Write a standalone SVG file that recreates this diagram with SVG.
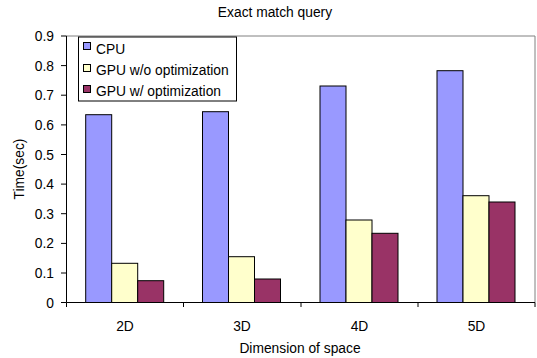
<svg xmlns="http://www.w3.org/2000/svg" width="537" height="358" viewBox="0 0 537 358">
<style>
text{font-family:"Liberation Sans",Arial,sans-serif;font-size:13.8px;fill:#000}
.yl{text-anchor:end}
.c{text-anchor:middle}
.cpu{fill:#9999FF;stroke:#000;stroke-width:1}
.w0{fill:#FFFFCC;stroke:#000;stroke-width:1}
.w1{fill:#993366;stroke:#000;stroke-width:1}
.ax{stroke:#000;stroke-width:1;fill:none}
</style>
<rect width="537" height="358" fill="#fff"/>
<text x="275" y="17" class="c">Exact match query</text>
<g id="plot-frame">
<path d="M66.5 36H535V302.5" fill="none" stroke="#808080" stroke-width="1"/>
<path class="ax" d="M66.5 36V302.5H535"/>
<path class="ax" d="M61 36H66.5M61 65.6H66.5M61 95.2H66.5M61 124.9H66.5M61 154.5H66.5M61 184.1H66.5M61 213.7H66.5M61 243.4H66.5M61 273H66.5M61 302.5H66.5"/>
<path class="ax" d="M66.5 302.5V307M183.5 302.5V307M301 302.5V307M418 302.5V307M535 302.5V307"/>
</g>
<g id="y-labels">
<text x="54" y="41" class="yl">0.9</text>
<text x="54" y="70.6" class="yl">0.8</text>
<text x="54" y="100.2" class="yl">0.7</text>
<text x="54" y="129.9" class="yl">0.6</text>
<text x="54" y="159.5" class="yl">0.5</text>
<text x="54" y="189.1" class="yl">0.4</text>
<text x="54" y="218.7" class="yl">0.3</text>
<text x="54" y="248.4" class="yl">0.2</text>
<text x="54" y="278" class="yl">0.1</text>
<text x="54" y="307.5" class="yl">0</text>
</g>
<text transform="translate(24 169) rotate(-90)" class="c">Time(sec)</text>
<g id="bars-2D">
<rect class="cpu" x="85.7" y="114.7" width="26" height="187.8"/>
<rect class="w0" x="111.7" y="263.3" width="26" height="39.2"/>
<rect class="w1" x="137.7" y="280.7" width="26" height="21.8"/>
</g>
<g id="bars-3D">
<rect class="cpu" x="202.5" y="111.7" width="26" height="190.8"/>
<rect class="w0" x="228.5" y="256.7" width="26" height="45.8"/>
<rect class="w1" x="254.5" y="279" width="26" height="23.5"/>
</g>
<g id="bars-4D">
<rect class="cpu" x="320" y="86" width="26" height="216.5"/>
<rect class="w0" x="346" y="220" width="26" height="82.5"/>
<rect class="w1" x="372" y="233.3" width="26" height="69.2"/>
</g>
<g id="bars-5D">
<rect class="cpu" x="437" y="70.7" width="26" height="231.8"/>
<rect class="w0" x="463" y="195.7" width="26" height="106.8"/>
<rect class="w1" x="489" y="202" width="26" height="100.5"/>
</g>
<g id="x-labels">
<text x="125" y="331" class="c">2D</text>
<text x="242" y="331" class="c">3D</text>
<text x="359.5" y="331" class="c">4D</text>
<text x="476.5" y="331" class="c">5D</text>
<text x="300" y="353" class="c">Dimension of space</text>
</g>
<g id="legend">
<rect x="78.5" y="37" width="158" height="64" fill="#fff" stroke="#000" stroke-width="1"/>
<rect class="cpu" x="83.5" y="42.5" width="7" height="7"/>
<text x="96" y="53.5">CPU</text>
<rect class="w0" x="83.5" y="64.5" width="7" height="7"/>
<text x="96" y="75">GPU w/o optimization</text>
<rect class="w1" x="83.5" y="85.5" width="7" height="7"/>
<text x="96" y="96">GPU w/ optimization</text>
</g>
</svg>
